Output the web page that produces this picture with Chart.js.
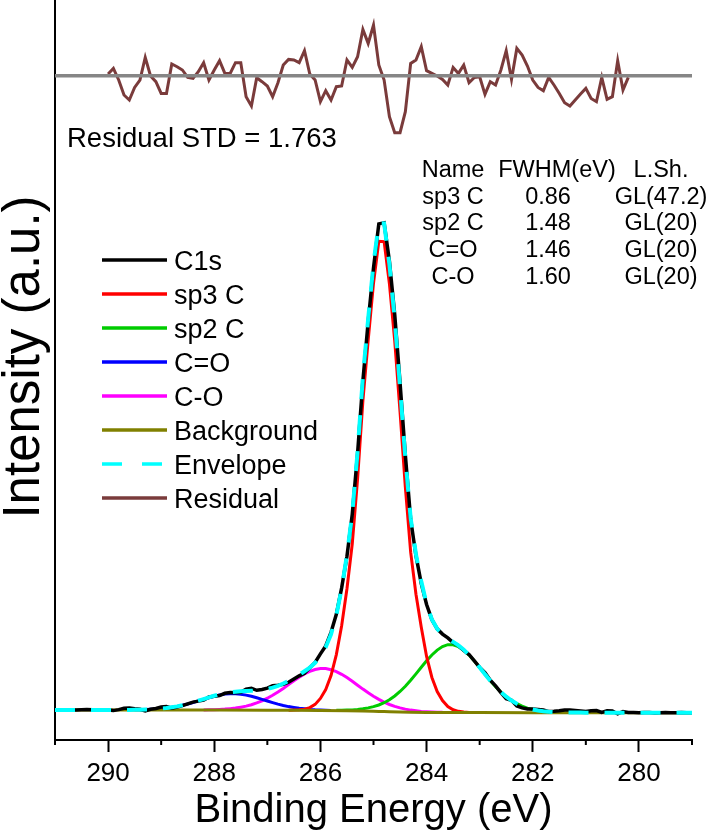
<!DOCTYPE html>
<html>
<head>
<meta charset="utf-8">
<script src="https://cdn.jsdelivr.net/npm/chart.js@4.4.0/dist/chart.umd.min.js"></script>
<style>
  html, body { margin: 0; padding: 0; background: #fff; }
  canvas { display: block; }
</style>
</head>
<body>
<canvas id="myChart" width="708" height="835"></canvas>
<script>
// binding energy grid of the measured spectrum (eV)
const energy = [
  291.0, 290.9, 290.8, 290.7, 290.6, 290.5, 290.4, 290.3, 290.2, 290.1,
  290.0, 289.9, 289.8, 289.7, 289.6, 289.5, 289.4, 289.3, 289.2, 289.1,
  289.0, 288.9, 288.8, 288.7, 288.6, 288.5, 288.4, 288.3, 288.2, 288.1,
  288.0, 287.9, 287.8, 287.7, 287.6, 287.5, 287.4, 287.3, 287.2, 287.1,
  287.0, 286.9, 286.8, 286.7, 286.6, 286.5, 286.4, 286.3, 286.2, 286.1,
  286.0, 285.9, 285.8, 285.7, 285.6, 285.5, 285.4, 285.3, 285.2, 285.1,
  285.0, 284.9, 284.8, 284.7, 284.6, 284.5, 284.4, 284.3, 284.2, 284.1,
  284.0, 283.9, 283.8, 283.7, 283.6, 283.5, 283.4, 283.3, 283.2, 283.1,
  283.0, 282.9, 282.8, 282.7, 282.6, 282.5, 282.4, 282.3, 282.2, 282.1,
  282.0, 281.9, 281.8, 281.7, 281.6, 281.5, 281.4, 281.3, 281.2, 281.1,
  281.0, 280.9, 280.8, 280.7, 280.6, 280.5, 280.4, 280.3, 280.2, 280.1,
  280.0, 279.9, 279.8, 279.7, 279.6, 279.5, 279.4, 279.3, 279.2, 279.1,
  279.0
];

const c1s = [
  30.1, 29.9, 30.0, 30.2, 30.1, 30.3, 30.4, 30.2, 30.1, 30.0,
  29.9, 29.4, 30.4, 31.7, 32.1, 31.2, 30.7, 29.0, 30.7, 31.5,
  32.9, 33.4, 31.8, 32.9, 34.3, 36.2, 37.9, 38.9, 39.8, 43.0,
  43.8, 44.5, 46.7, 47.6, 47.3, 47.8, 50.8, 51.8, 49.7, 50.5,
  51.9, 54.2, 54.7, 55.6, 57.7, 60.9, 64.2, 66.7, 72.3, 77.6,
  86.1, 94.1, 107.7, 125.7, 152.1, 183.7, 225.9, 286.6, 359.2, 418.7,
  472.2, 516.1, 517.1, 478.9, 425.3, 357.4, 284.8, 220.8, 184.3, 156.4,
  135.5, 120.3, 111.2, 105.9, 102.1, 97.4, 94.4, 89.5, 85.5, 79.1,
  72.6, 67.4, 59.8, 54.1, 47.4, 41.2, 39.7, 34.0, 32.1, 31.1,
  30.9, 30.5, 30.0, 28.4, 28.7, 29.2, 29.9, 30.0, 29.5, 28.9,
  28.4, 29.3, 29.5, 27.5, 29.3, 29.1, 26.1, 28.5, 27.5, 27.6,
  27.2, 27.4, 27.5, 27.1, 27.3, 27.4, 27.2, 27.3, 27.5, 27.3,
  27.2
];

const envelope = [
  30.0, 30.0, 30.0, 30.0, 30.0, 30.0, 30.0, 30.0, 30.0, 30.0,
  30.0, 30.0, 30.05, 30.1, 30.1, 30.2, 30.3, 30.5, 30.7, 31.0,
  31.45, 31.95, 32.75, 33.65, 34.75, 36.05, 37.65, 39.3, 40.95, 42.6,
  44.25, 45.7, 46.9, 47.75, 48.35, 48.85, 49.05, 49.25, 49.5, 50.0,
  51.0, 52.4, 54.15, 56.45, 59.1, 62.2, 65.25, 68.75, 72.4, 77.2,
  83.95, 92.8, 105.7, 124.8, 151.25, 185.0, 226.6, 288.2, 363.1, 421.4,
  476.4, 517.0, 516.7, 475.5, 420.5, 352.6, 281.8, 221.8, 185.6, 158.75,
  135.9, 120.5, 111.2, 105.6, 101.3, 98.05, 94.55, 90.35, 84.9, 79.0,
  72.5, 65.8, 59.3, 53.3, 47.9, 43.3, 39.4, 36.3, 33.8, 31.9,
  30.55, 29.55, 28.75, 28.25, 27.95, 27.75, 27.6, 27.5, 27.45, 27.4,
  27.35, 27.35, 27.35, 27.35, 27.35, 27.3, 27.3, 27.3, 27.3, 27.3,
  27.3, 27.3, 27.3, 27.3, 27.3, 27.3, 27.3, 27.3, 27.3, 27.3,
  27.3
];

// Shirley background
const bgEnergy = [291, 289, 288, 287, 286.5, 286, 285.5, 285.2, 285, 284.9, 284.8, 284.7, 284.5, 284.3, 284, 283.5, 283, 282, 279];
const background = [30.0, 30.0, 29.9, 29.8, 29.7, 29.55, 29.3, 29.0, 28.8, 28.6, 28.4, 28.2, 28.0, 27.8, 27.6, 27.45, 27.4, 27.35, 27.3];

// fitted components (component + background)
const sp3Energy = [286.6, 286.5, 286.4, 286.3, 286.2, 286.1, 286.0, 285.9, 285.8, 285.7, 285.6, 285.5, 285.4, 285.3, 285.2, 285.1, 285.0, 284.9, 284.8, 284.7, 284.6, 284.5, 284.4, 284.3, 284.2, 284.1, 284.0, 283.9, 283.8, 283.7, 283.6, 283.5, 283.4, 283.3, 283.2];
const sp3 = [29.7, 29.9, 30.15, 30.85, 32.4, 35.6, 41.55, 50.5, 64.45, 85.4, 114.35, 151.3, 196.2, 261.1, 339.0, 399.9, 456.8, 498.6, 498.4, 456.2, 399.1, 328.0, 252.9, 187.8, 145.7, 112.65, 83.6, 62.55, 48.5, 39.5, 33.5, 30.25, 28.65, 27.95, 27.4];

const sp2Energy = [285.7, 285.6, 285.5, 285.4, 285.3, 285.2, 285.1, 285.0, 284.9, 284.8, 284.7, 284.6, 284.5, 284.4, 284.3, 284.2, 284.1, 284.0, 283.9, 283.8, 283.7, 283.6, 283.5, 283.4, 283.3, 283.2, 283.1, 283.0, 282.9, 282.8, 282.7, 282.6, 282.5, 282.4, 282.3, 282.2, 282.1, 282.0, 281.9, 281.8, 281.7, 281.6, 281.5, 281.4];
const sp2 = [29.65, 29.7, 29.9, 30.1, 30.5, 31.2, 32.1, 33.4, 35.0, 37.3, 40.2, 44.0, 48.5, 53.8, 59.7, 66.1, 72.7, 79.2, 85.0, 89.9, 93.4, 95.3, 95.2, 93.3, 89.8, 84.9, 79.0, 72.5, 65.8, 59.3, 53.3, 47.9, 43.3, 39.4, 36.3, 33.8, 31.9, 30.5, 29.5, 28.7, 28.2, 27.9, 27.7, 27.55];

const carbonylEnergy = [289.5, 289.4, 289.3, 289.2, 289.1, 289.0, 288.9, 288.8, 288.7, 288.6, 288.5, 288.4, 288.3, 288.2, 288.1, 288.0, 287.9, 287.8, 287.7, 287.6, 287.5, 287.4, 287.3, 287.2, 287.1, 287.0, 286.9, 286.8, 286.7, 286.6, 286.5, 286.4, 286.3, 286.2, 286.1, 286.0, 285.9, 285.8];
const carbonyl = [30.2, 30.3, 30.5, 30.7, 31.0, 31.45, 31.95, 32.75, 33.6, 34.7, 36.0, 37.5, 39.1, 40.7, 42.3, 43.8, 45.0, 45.9, 46.25, 46.25, 45.85, 44.9, 43.7, 42.2, 40.6, 39.0, 37.4, 35.85, 34.55, 33.4, 32.5, 31.7, 31.15, 30.6, 30.25, 30.05, 29.8, 29.6];

const etherEnergy = [288.2, 288.1, 288.0, 287.9, 287.8, 287.7, 287.6, 287.5, 287.4, 287.3, 287.2, 287.1, 287.0, 286.9, 286.8, 286.7, 286.6, 286.5, 286.4, 286.3, 286.2, 286.1, 286.0, 285.9, 285.8, 285.7, 285.6, 285.5, 285.4, 285.3, 285.2, 285.1, 285.0, 284.9, 284.8, 284.7, 284.6, 284.5, 284.4, 284.3, 284.2, 284.1, 284.0, 283.9, 283.8, 283.7];
const ether = [30.1, 30.2, 30.35, 30.6, 30.9, 31.35, 31.9, 32.85, 33.9, 35.3, 37.1, 39.2, 41.8, 44.8, 48.05, 51.6, 55.4, 59.2, 62.75, 66.0, 68.6, 70.5, 71.45, 71.4, 70.3, 68.4, 65.7, 62.4, 58.7, 54.8, 50.9, 47.2, 43.8, 40.6, 37.8, 35.5, 33.6, 32.1, 30.9, 29.9, 29.2, 28.6, 28.3, 28.0, 27.8, 27.7];

// residual (290.0 -> 280.2 eV), own scale
const residualEnergy = energy.slice(10, 109);
const residual = [
  1.7, 7.3, -4.3, -19.3, -24.3, -11.7, -4.3, 18.3, -0.3, -6.0,
  -17.7, -17.7, 11.7, 9.0, 5.7, -1.7, -2.7, 4.0, 13.0, -4.3,
  5.7, 15.0, 2.3, 2.3, 13.0, 13.0, -21.0, -30.3, -2.0, -6.0,
  -10.3, -21.0, -7.0, 10.7, 16.3, 15.7, 13.0, 25.0, 1.7, -4.3,
  -26.0, -15.0, -24.3, -11.0, -10.3, 15.7, 8.3, 19.0, 46.3, 32.3,
  50.7, 10.7, -4.3, -41.0, -57.0, -57.0, -36.0, 12.3, 15.7, 29.0,
  5.0, 2.3, -0.3, -3.7, -9.3, 8.3, 2.3, 10.7, -7.0, -1.7,
  -1.0, -18.7, -6.0, -9.3, 5.7, 25.0, -3.7, 27.3, 20.7, 9.7,
  -4.3, -11.7, -15.0, -1.7, -9.3, -17.7, -27.0, -30.3, -24.3, -18.3,
  -12.7, -22.7, -26.0, -1.7, -23.7, -21.0, 15.0, -14.3, -1.7
];
const zeroEnergy = [291, 279];
const zeroLine = [0, 0];

const minorTicks = [291, 289, 287, 285, 283, 281, 279];

const tableHead = ['Name', 'FWHM(eV)', 'L.Sh.'];
const tableNames = ['sp3 C', 'sp2 C', 'C=O', 'C-O'];
const tableFwhm = ['0.86', '1.48', '1.46', '1.60'];
const tableShape = ['GL(47.2)', 'GL(20)', 'GL(20)', 'GL(20)'];
const residualStd = 'Residual STD = 1.763';
const yTitle = 'Intensity (a.u.)';

const FONT = '"Liberation Sans", Arial, Helvetica, sans-serif';
Chart.defaults.font.family = FONT;
Chart.defaults.color = '#000';

function pts(xs, ys) {
  return xs.map((x, i) => ({ x: x, y: ys[i] }));
}

function line(label, xs, ys, color, order, extra) {
  return Object.assign({
    label: label,
    data: pts(xs, ys),
    borderColor: color,
    backgroundColor: color,
    borderWidth: 3,
    pointRadius: 0,
    tension: 0,
    fill: false,
    order: order
  }, extra || {});
}

const datasets = [
  line('C1s', energy, c1s, '#000000', 2, { borderWidth: 3.5 }),
  line('sp3 C', sp3Energy, sp3, '#ff0000', 6),
  line('sp2 C', sp2Energy, sp2, '#00cc00', 7),
  line('C=O', carbonylEnergy, carbonyl, '#0000ff', 8),
  line('C-O', etherEnergy, ether, '#ff00ff', 9),
  line('Background', bgEnergy, background, '#808000', 3),
  line('Envelope', energy, envelope, '#00ffff', 1, { borderWidth: 4, borderDash: [20, 16] }),
  line('Residual', residualEnergy, residual, '#7a3b3b', 5, { yAxisID: 'yr' }),
  line('zero', zeroEnergy, zeroLine, '#868686', 4, { yAxisID: 'yr', borderWidth: 3.5 })
];

const legendLabels = ['C1s', 'sp3 C', 'sp2 C', 'C=O', 'C-O', 'Background', 'Envelope', 'Residual'];

const overlay = {
  id: 'overlay',
  afterDraw(chart) {
    const ctx = chart.ctx;
    const xs = chart.scales.x;
    const bottom = chart.chartArea.bottom;
    ctx.save();

    // minor ticks on the x axis
    ctx.strokeStyle = '#000';
    ctx.lineWidth = 2;
    minorTicks.forEach(v => {
      const px = xs.getPixelForValue(v);
      ctx.beginPath();
      ctx.moveTo(px, bottom);
      ctx.lineTo(px, bottom + 5);
      ctx.stroke();
    });

    // y axis title, sitting a little above the middle of the axis
    ctx.save();
    ctx.font = '51px ' + FONT;
    ctx.fillStyle = '#000';
    ctx.textAlign = 'center';
    ctx.textBaseline = 'middle';
    ctx.translate(25, 357);
    ctx.rotate(-Math.PI / 2);
    ctx.fillText(yTitle, 0, 0);
    ctx.restore();

    // legend
    ctx.font = '27px ' + FONT;
    ctx.fillStyle = '#000';
    ctx.textAlign = 'left';
    ctx.textBaseline = 'alphabetic';
    legendLabels.forEach((name, i) => {
      const ds = chart.data.datasets.find(d => d.label === name);
      const y = 260 + i * 34;
      ctx.strokeStyle = ds.borderColor;
      ctx.lineWidth = 3.5;
      ctx.setLineDash(name === 'Envelope' ? [20, 20] : []);
      ctx.beginPath();
      ctx.moveTo(102, y);
      ctx.lineTo(167, y);
      ctx.stroke();
      ctx.setLineDash([]);
      ctx.fillText(name, 174, y + 9.5);
    });

    // residual std
    ctx.font = '27.5px ' + FONT;
    ctx.fillText(residualStd, 67, 147);

    // parameter table
    ctx.font = '23.5px ' + FONT;
    ctx.textAlign = 'center';
    const cols = [453, 557, 661];
    tableHead.forEach((t, i) => ctx.fillText(t, cols[i], 177));
    tableNames.forEach((n, i) => {
      const y = 203.5 + i * 26.7;
      ctx.fillText(n, 453, y);
      ctx.fillText(tableFwhm[i], 548, y);
      ctx.fillText(tableShape[i], 661, y);
    });
    ctx.restore();
  }
};

new Chart(document.getElementById('myChart'), {
  type: 'line',
  data: { datasets: datasets },
  options: {
    responsive: false,
    animation: false,
    devicePixelRatio: 1,
    layout: { padding: { left: 0, right: 16, top: 0, bottom: 0 } },
    plugins: { legend: { display: false }, tooltip: { enabled: false } },
    scales: {
      x: {
        type: 'linear',
        reverse: true,
        min: 279,
        max: 291,
        ticks: {
          stepSize: 1,
          autoSkip: false,
          maxRotation: 0,
          padding: 6,
          font: { size: 26 },
          color: '#000',
          callback: v => (v % 2 === 0 ? String(v) : '')
        },
        grid: {
          drawOnChartArea: false,
          tickLength: 12,
          tickWidth: 2,
          tickColor: c => (c.tick && c.tick.value % 2 === 0 ? '#000' : 'rgba(0,0,0,0)')
        },
        border: { color: '#000', width: 2 },
        title: { display: true, text: 'Binding Energy (eV)', font: { size: 40 }, padding: { top: 0, bottom: 0 } },
        afterFit(scale) { scale.height = 95; }
      },
      y: {
        min: 0,
        max: 740,
        ticks: { display: false },
        grid: { display: false, drawTicks: false },
        border: { display: true, color: '#000', width: 2 },
        title: { display: false },
        afterFit(scale) { scale.width = 55; }
      },
      yr: {
        display: false,
        min: -664.3,
        max: 75.7
      }
    }
  },
  plugins: [overlay]
});
</script>
</body>
</html>
